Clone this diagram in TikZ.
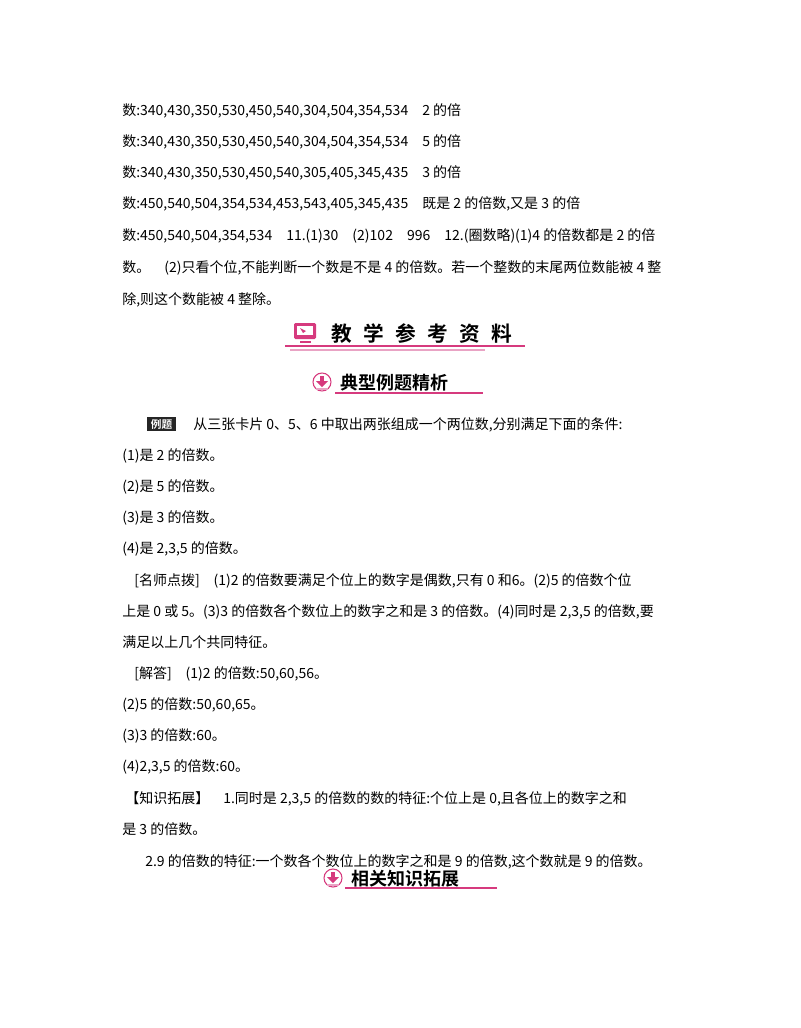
\documentclass[tikz,border=0pt]{standalone}
\usepackage{fontspec}
\setmainfont{Noto Sans CJK SC}
\newfontfamily\hei{Noto Sans CJK SC Bold}
\definecolor{pk}{HTML}{D63A7E}
\definecolor{pkl}{HTML}{E9A3C4}
\begin{document}
\begin{tikzpicture}[x=0.75pt,y=-0.75pt,
  tl/.style={anchor=base west,inner sep=0pt,font=\fontsize{10.5pt}{12pt}\selectfont},
  hd/.style={anchor=base west,inner sep=0pt,font=\hei\fontsize{13.5pt}{14pt}\selectfont}]
\useasboundingbox (0,0) rectangle (800,1028);
\node[tl] (l1) at (122,115) {数:340,430,350,530,450,540,304,504,354,534\quad 2 的倍};
\node[tl] (l2) at (122,146) {数:340,430,350,530,450,540,304,504,354,534\quad 5 的倍};
\node[tl] (l3) at (122,177) {数:340,430,350,530,450,540,305,405,345,435\quad 3 的倍};
\node[tl] (l4) at (122,208) {数:450,540,504,354,534,453,543,405,345,435\quad 既是 2 的倍数,又是 3 的倍};
\node[tl] (l5) at (122,240) {数:450,540,504,354,534\quad 11.(1)30\quad (2)102\quad 996\quad 12.(圈数略)(1)4 的倍数都是 2 的倍};
\node[tl] (l6) at (122,272) {数。\quad (2)只看个位,不能判断一个数是不是 4 的倍数。若一个整数的末尾两位数能被 4 整};
\node[tl] (l7) at (122,304) {除,则这个数能被 4 整除。};
% header 1
\draw[pk,line width=1pt] (285,346) -- (525,346);
\draw[pkl,line width=1pt] (290,350) -- (485,350);
\fill[pk,rounded corners=1pt] (294,323) rectangle (316,339);
\fill[white] (297,326) rectangle (313,335);
\fill[pk] (300,328) -- (306,331) -- (303,333) -- cycle;
\fill[pk] (300,341) rectangle (311,343);
\node[hd,font=\hei\fontsize{15.5pt}{16pt}\selectfont] (h1) at (331,341) {教\hspace{0.55em}学\hspace{0.55em}参\hspace{0.55em}考\hspace{0.55em}资\hspace{0.55em}料};
% header 2
\draw[pk,line width=1pt] (335,393) -- (483,393);
\draw[pk,line width=0.8pt,fill=white] (322,382) circle (9);
\fill[pk] (320,376) rectangle (324,382);
\fill[pk] (316,381) -- (328,381) -- (322,387) -- cycle;
\fill[pkl] (316,388) rectangle (328,390);
\node[hd] (h2) at (340,389) {典型例题精析};
% example
\fill[black!85] (147,417) rectangle (176,431);
\node[inner sep=0pt,text=white,font=\hei\fontsize{8pt}{9pt}\selectfont] (lt) at (161.5,424) {例题};
\node[tl] (e0) at (193,429) {从三张卡片 0、5、6 中取出两张组成一个两位数,分别满足下面的条件:};
\node[tl] (e1) at (122,460) {(1)是 2 的倍数。};
\node[tl] (e2) at (122,491) {(2)是 5 的倍数。};
\node[tl] (e3) at (122,522) {(3)是 3 的倍数。};
\node[tl] (e4) at (122,553) {(4)是 2,3,5 的倍数。};
\node[tl] (m1) at (134,585) {[名师点拨]\quad (1)2 的倍数要满足个位上的数字是偶数,只有 0 和6。(2)5 的倍数个位};
\node[tl] (m2) at (122,616) {上是 0 或 5。(3)3 的倍数各个数位上的数字之和是 3 的倍数。(4)同时是 2,3,5 的倍数,要};
\node[tl] (m3) at (122,647) {满足以上几个共同特征。};
\node[tl] (a0) at (134,678) {[解答]\quad (1)2 的倍数:50,60,56。};
\node[tl] (a1) at (122,709) {(2)5 的倍数:50,60,65。};
\node[tl] (a2) at (122,740) {(3)3 的倍数:60。};
\node[tl] (a3) at (122,771) {(4)2,3,5 的倍数:60。};
\node[tl] (k1) at (125,803) {【知识拓展】\quad 1.同时是 2,3,5 的倍数的数的特征:个位上是 0,且各位上的数字之和};
\node[tl] (k2) at (122,834) {是 3 的倍数。};
\node[tl] (k3) at (145,866) {2.9 的倍数的特征:一个数各个数位上的数字之和是 9 的倍数,这个数就是 9 的倍数。};
% header 3
\draw[pk,line width=1pt] (345,888) -- (497,888);
\draw[pk,line width=0.8pt,fill=white] (333,878) circle (9);
\fill[pk] (331,872) rectangle (335,878);
\fill[pk] (327,877) -- (339,877) -- (333,883) -- cycle;
\fill[pkl] (327,884) rectangle (339,886);
\node[hd] (h3) at (351,885) {相关知识拓展};
\end{tikzpicture}
\end{document}
